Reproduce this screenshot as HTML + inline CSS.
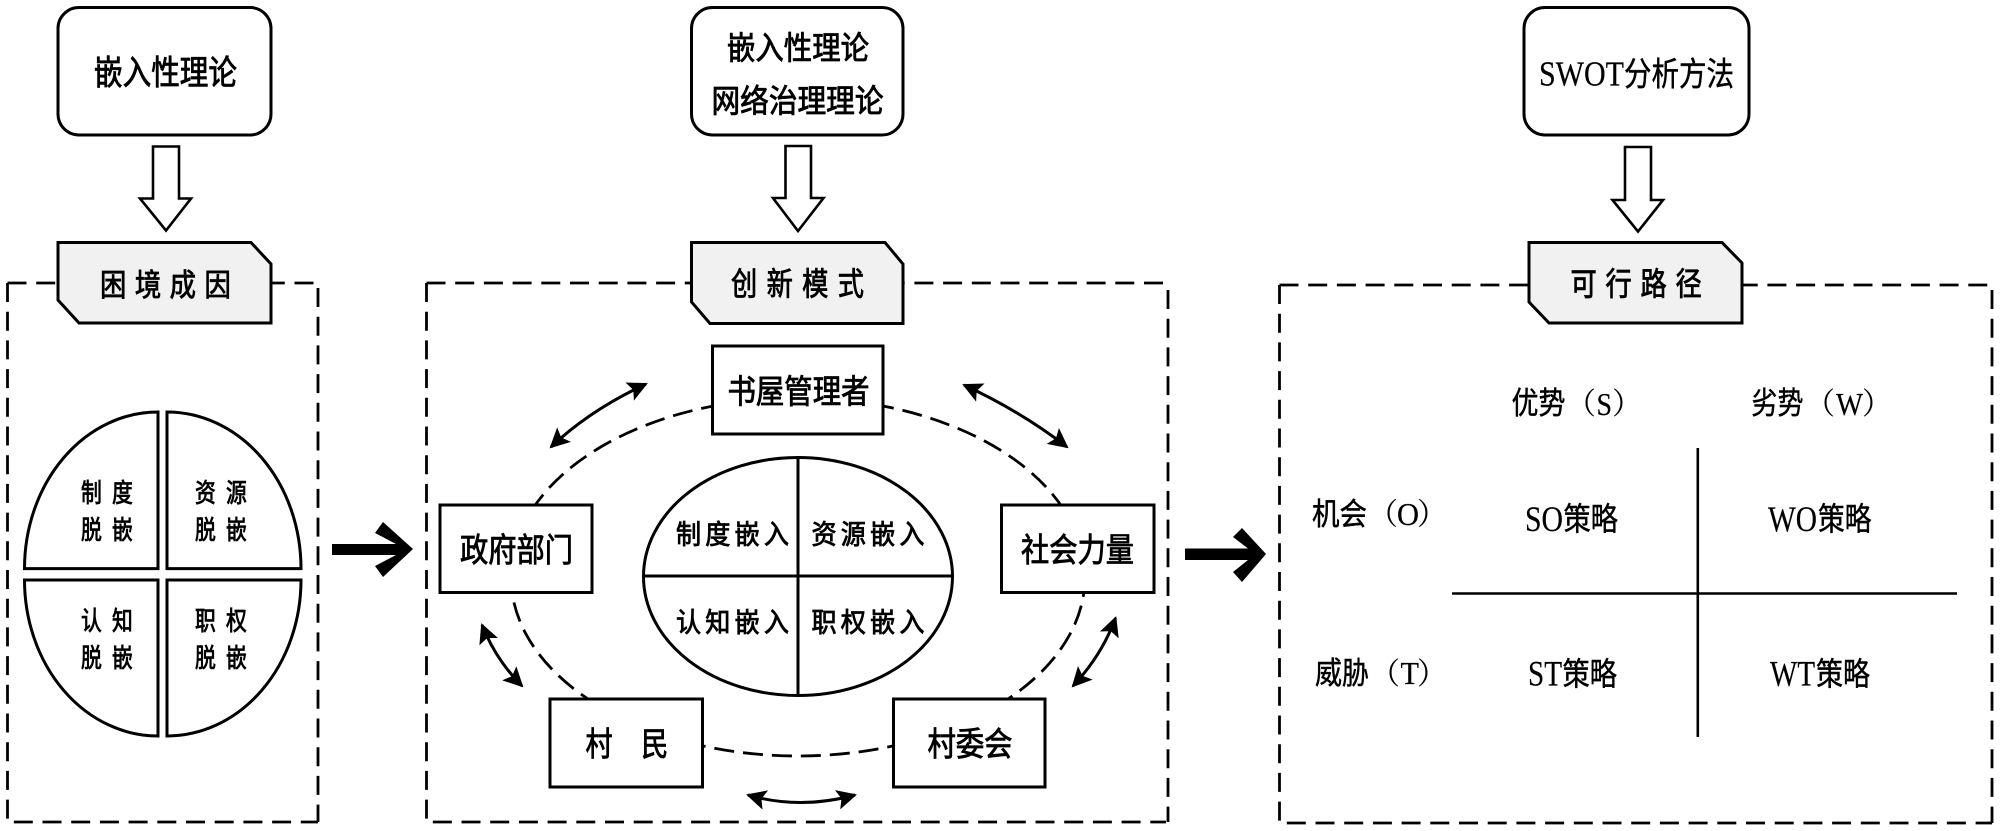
<!DOCTYPE html>
<html><head><meta charset="utf-8"><style>
html,body{margin:0;padding:0;background:#fff}
svg{display:block}
text{font-family:"Liberation Sans","Noto Sans CJK SC",sans-serif;fill:#000;stroke:#000;stroke-width:.85}
text.m{stroke-width:.45}
text.r{font-family:"Liberation Serif",serif;stroke-width:.2}
text.p{font-family:"Noto Serif CJK SC",serif;stroke-width:.1}
.l{fill:none;stroke:#000;stroke-width:2.6}
.b{fill:#fff;stroke:#000;stroke-width:3}
.t{fill:#f1f1f1;stroke:#000;stroke-width:3}
.d{fill:none;stroke:#000;stroke-width:2.8;stroke-dasharray:19 9.7}
.e{fill:none;stroke:#000;stroke-width:2.8;stroke-dasharray:20 9}
.a{fill:none;stroke:#000;stroke-width:3;marker-start:url(#h);marker-end:url(#h)}
</style></head><body>
<svg width="2000" height="831" viewBox="0 0 2000 831" xmlns="http://www.w3.org/2000/svg">
<defs><marker id="h" markerUnits="userSpaceOnUse" markerWidth="24" markerHeight="24" refX="18" refY="11" orient="auto-start-reverse"><path d="M20,11 L0,1 L4,11 L0,21 Z" fill="#000"/></marker></defs>

<!-- dashed panels -->
<path class="d" d="M7.5,283H314M318,288V822M7.5,283V822H318"/>
<path class="d" d="M426.5,283H1164M1168,290V822M426.5,283V822H1166"/>
<path class="d" d="M1279.5,285H1988M1992,290V823M1279.5,285V823H1992"/>

<!-- rounded boxes -->
<rect class="b" x="58" y="7.5" width="213" height="127.5" rx="21" ry="21"/>
<rect class="b" x="691.5" y="7.5" width="211.5" height="127.5" rx="21" ry="21"/>
<rect class="b" x="1524" y="7.5" width="225" height="127.5" rx="21" ry="21"/>

<!-- block arrows -->
<path class="b" style="stroke-width:2.6" d="M153,146.5H179V198.5H191L166,230.5L140,198.5H153Z"/>
<path class="b" style="stroke-width:2.6" d="M785.5,146H811V198H823.5L798,231L773,198H785.5Z"/>
<path class="b" style="stroke-width:2.6" d="M1625,147H1651V200H1663L1638,231.5L1612.5,200H1625Z"/>

<!-- tags -->
<path class="t" d="M58,242.5H251L271,264V323H79L58,300Z"/>
<path class="t" d="M691.5,242.5H885L903,264V323.5H710L691.5,302Z"/>
<path class="t" d="M1529,242.5H1722L1742,263V323H1549L1529,302Z"/>

<!-- heavy arrows -->
<path d="M332,544H396L375,533L383,522L413,549L383,577L375,566L396,555H332Z" fill="#000"/>
<path d="M1185,548.5H1248L1233,537L1242,528L1266,554L1242,582L1233,572L1248,560H1185Z" fill="#000"/>

<!-- left quadrants -->
<path class="b" d="M158,412V568.6H24.5A133.5,156.6 0 0 1 158,412Z"/>
<path class="b" d="M167,412V568.6H301A134,156.6 0 0 0 167,412Z"/>
<path class="b" d="M158,580V736A133.5,156 0 0 1 24.5,580Z"/>
<path class="b" d="M167,580V736A134,156 0 0 0 301,580Z"/>

<!-- middle dashed ellipse -->
<ellipse class="e" cx="798" cy="577" rx="287" ry="179"/>

<!-- middle center -->
<ellipse class="b" cx="798" cy="576.5" rx="154.5" ry="119"/>
<path class="l" d="M798,457.5V695.5M643.5,576H952" style="stroke-width:3"/>

<!-- node boxes -->
<rect class="b" x="712.5" y="346" width="170.5" height="88"/>
<rect class="b" x="440" y="505" width="152" height="87.5"/>
<rect class="b" x="1001.5" y="505" width="152.5" height="87.5"/>
<rect class="b" x="550" y="699" width="152.5" height="88"/>
<rect class="b" x="893.5" y="699" width="151.5" height="88"/>

<!-- curved arrows -->
<path class="a" d="M646,384Q590,410 551,447"/>
<path class="a" d="M964,385Q1022,412 1067,447"/>
<path class="a" d="M482,625Q496,660 522,686"/>
<path class="a" d="M1115.5,618Q1102,655 1073,686"/>
<path class="a" d="M748,795Q800,810 855,795"/>

<!-- SWOT lines -->
<path class="l" d="M1697.8,448V737M1452,593.5H1957"/>

<!-- top labels -->
<text x="94" y="84.5" font-size="34" textLength="143" lengthAdjust="spacingAndGlyphs">嵌入性理论</text>
<text x="727" y="59" font-size="32" textLength="142" lengthAdjust="spacingAndGlyphs">嵌入性理论</text>
<text x="711.5" y="112" font-size="32" textLength="172" lengthAdjust="spacingAndGlyphs">网络治理理论</text>
<text class="r" x="1539" y="85.5" font-size="35" textLength="85" lengthAdjust="spacingAndGlyphs">SWOT</text>
<text class="m" x="1624" y="85.5" font-size="33" textLength="110" lengthAdjust="spacingAndGlyphs">分析方法</text>

<!-- tag labels -->
<text transform="translate(100,296) scale(.85,1)" font-size="31" letter-spacing="10">困境成因</text>
<text transform="translate(731,295) scale(.82,1)" font-size="32" letter-spacing="11.4">创新模式</text>
<text transform="translate(1570.5,295) scale(.82,1)" font-size="32" letter-spacing="10.7">可行路径</text>

<!-- left quadrant labels -->
<g font-size="26" letter-spacing="12.7">
<text transform="translate(81,502) scale(.8,1)">制度</text>
<text transform="translate(81,539) scale(.8,1)">脱嵌</text>
<text transform="translate(195,502) scale(.8,1)">资源</text>
<text transform="translate(195,539) scale(.8,1)">脱嵌</text>
<text transform="translate(81,630) scale(.8,1)">认知</text>
<text transform="translate(81,667) scale(.8,1)">脱嵌</text>
<text transform="translate(195,630) scale(.8,1)">职权</text>
<text transform="translate(195,667) scale(.8,1)">脱嵌</text>
</g>

<!-- center labels -->
<g font-size="27" letter-spacing="4.5">
<text transform="translate(676,544) scale(.93,1)">制度嵌入</text>
<text transform="translate(811.5,544) scale(.93,1)">资源嵌入</text>
<text transform="translate(676,632) scale(.93,1)">认知嵌入</text>
<text transform="translate(811.5,632) scale(.93,1)">职权嵌入</text>
</g>

<!-- node labels -->
<text x="727.5" y="403" font-size="33" textLength="142" lengthAdjust="spacingAndGlyphs">书屋管理者</text>
<text x="460" y="561.5" font-size="33" textLength="113" lengthAdjust="spacingAndGlyphs">政府部门</text>
<text x="1021" y="561.5" font-size="33" textLength="113" lengthAdjust="spacingAndGlyphs">社会力量</text>
<text transform="translate(585.5,755.5) scale(.82,1)" font-size="33" letter-spacing="35">村民</text>
<text x="927.5" y="755.5" font-size="33" textLength="85" lengthAdjust="spacingAndGlyphs">村委会</text>

<!-- SWOT header labels -->
<text class="m" x="1511.5" y="414" font-size="31" textLength="54" lengthAdjust="spacingAndGlyphs">优势</text>
<text class="p" x="1566" y="414" font-size="30">（</text>
<text class="r" x="1596.5" y="415" font-size="32" textLength="15.5" lengthAdjust="spacingAndGlyphs">S</text>
<text class="p" x="1612" y="414" font-size="30">）</text>

<text class="m" x="1751.5" y="414" font-size="31" textLength="52" lengthAdjust="spacingAndGlyphs">劣势</text>
<text class="p" x="1805" y="414" font-size="30">（</text>
<text class="r" x="1836" y="415" font-size="32" textLength="27" lengthAdjust="spacingAndGlyphs">W</text>
<text class="p" x="1862" y="414" font-size="30">）</text>

<text class="m" x="1312" y="525" font-size="31" textLength="55" lengthAdjust="spacingAndGlyphs">机会</text>
<text class="p" x="1368" y="524.5" font-size="30">（</text>
<text class="r" x="1397" y="525" font-size="32" textLength="22" lengthAdjust="spacingAndGlyphs">O</text>
<text class="p" x="1417" y="524.5" font-size="30">）</text>

<text class="m" x="1315" y="684" font-size="31" textLength="54" lengthAdjust="spacingAndGlyphs">威胁</text>
<text class="p" x="1370" y="684" font-size="30">（</text>
<text class="r" x="1400.5" y="684" font-size="32" textLength="18.5" lengthAdjust="spacingAndGlyphs">T</text>
<text class="p" x="1417" y="684" font-size="30">）</text>

<!-- strategy labels -->
<text class="r" x="1525" y="531" font-size="36" textLength="38" lengthAdjust="spacingAndGlyphs">SO</text>
<text class="m" x="1563.5" y="530" font-size="32" textLength="54.5" lengthAdjust="spacingAndGlyphs">策略</text>
<text class="r" x="1768" y="531" font-size="36" textLength="49" lengthAdjust="spacingAndGlyphs">WO</text>
<text class="m" x="1818" y="530" font-size="32" textLength="53.5" lengthAdjust="spacingAndGlyphs">策略</text>
<text class="r" x="1528" y="685.5" font-size="36" textLength="34" lengthAdjust="spacingAndGlyphs">ST</text>
<text class="m" x="1562.5" y="685" font-size="32" textLength="54.5" lengthAdjust="spacingAndGlyphs">策略</text>
<text class="r" x="1770" y="685.5" font-size="36" textLength="45" lengthAdjust="spacingAndGlyphs">WT</text>
<text class="m" x="1816" y="685" font-size="32" textLength="54" lengthAdjust="spacingAndGlyphs">策略</text>
</svg>
</body></html>
